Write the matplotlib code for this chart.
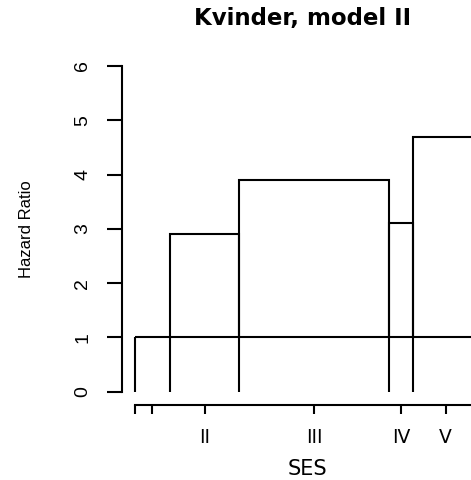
import numpy as np
import matplotlib
matplotlib.use('Agg')
import matplotlib.pyplot as plt

# SES group shares (% of women) and hazard ratios, model II
ses_share = [10.3, 20.0, 43.7, 6.8, 19.2]
hazard_ratio = [1.0, 2.9, 3.9, 3.1, 4.7]
tick_labels = ['', '', 'II', 'III', 'IV', 'V']
y_ticks = [0, 1, 2, 3, 4, 5, 6]


def main():
    share = np.array(ses_share)
    hr = np.array(hazard_ratio)
    left = np.concatenate([[0], np.cumsum(share)[:-1]])
    edges = np.cumsum(np.concatenate([[0], share]))
    mids = left + share / 2

    fig = plt.figure(figsize=(4.71, 4.80), dpi=100)
    ax = fig.add_axes([122 / 471, (480 - 404.7) / 480, 370.5 / 471, 351.7 / 480])

    lw = 1.5
    # boxes drawn from the reference level HR = 1
    ax.bar(left, hr - 1, width=share, bottom=1, align='edge',
           fill=False, edgecolor='black', linewidth=lw)
    ax.vlines(edges, 0, 1, colors='black', linewidth=lw)

    ax.set_xlim(-3.7, 104)
    ax.set_ylim(-0.24, 6.24)

    for side in ['top', 'right']:
        ax.spines[side].set_visible(False)
    ax.spines['left'].set_bounds(0, 6)
    ax.spines['bottom'].set_bounds(0, 100)
    ax.spines['left'].set_linewidth(lw)
    ax.spines['bottom'].set_linewidth(lw)

    ax.set_yticks(y_ticks)
    ax.set_yticklabels([str(t) for t in y_ticks], rotation=90, va='center',
                       fontsize=14, family='Liberation Sans')
    ax.tick_params(axis='y', length=11, width=lw, pad=11)

    ax.set_xticks(np.concatenate([[0], mids]))
    ax.set_xticklabels(tick_labels, fontsize=13.5, family='DejaVu Sans')
    ax.tick_params(axis='x', length=6.5, width=lw, pad=10)

    ax.set_ylabel('Hazard Ratio', fontsize=12, family='Liberation Sans')
    ax.yaxis.set_label_coords((27 - 122) / 370.5, 0.5)
    ax.yaxis.label.set_va('center')

    ax.set_xlabel('SES', fontsize=15, family='DejaVu Sans')
    ax.xaxis.set_label_coords(0.5, (404.7 - 469) / 351.7)
    ax.xaxis.label.set_va('center')

    fig.text(303 / 471, 1 - 18 / 480, 'Kvinder, model II', ha='center', va='center',
             fontsize=16.5, fontweight='bold', family='DejaVu Sans')

    fig.savefig('out.png', dpi=100)


if __name__ == '__main__':
    main()
